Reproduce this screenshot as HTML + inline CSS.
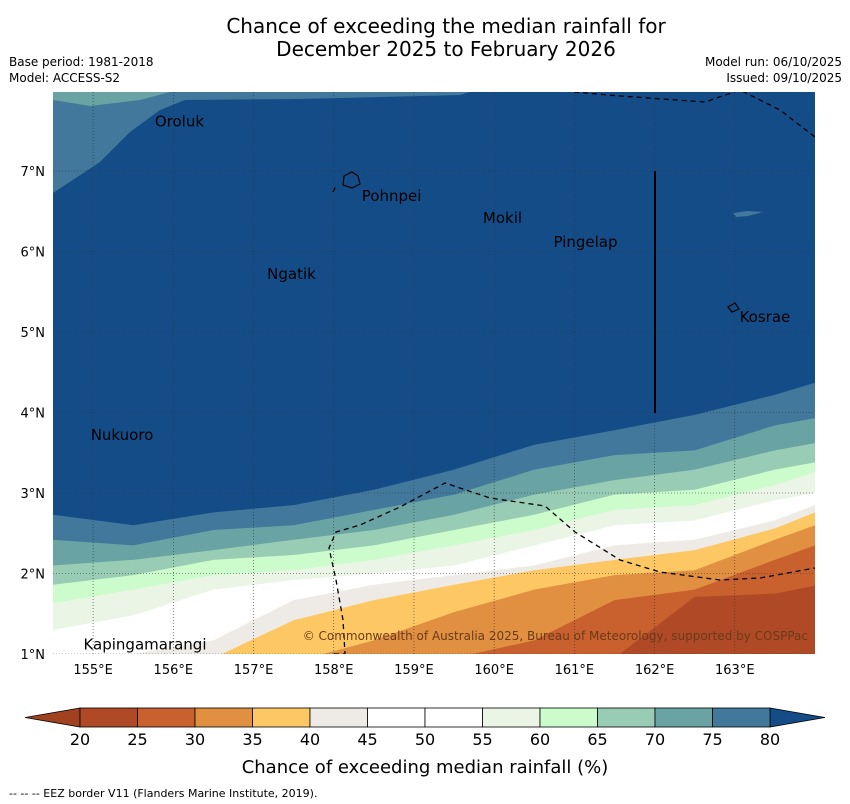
<!DOCTYPE html>
<html><head><meta charset="utf-8">
<style>
body{margin:0;background:#fff;font-family:"Liberation Sans","DejaVu Sans",sans-serif;}
svg{display:block}
</style></head>
<body>
<svg id="chart" width="850" height="804" viewBox="0 0 850 804" xmlns="http://www.w3.org/2000/svg" font-family="DejaVu Sans, Liberation Sans, sans-serif">
<text x="446" y="33" font-size="20" text-anchor="middle">Chance of exceeding the median rainfall for</text>
<text x="446" y="56" font-size="20" text-anchor="middle">December 2025 to February 2026</text>
<text x="9" y="66" font-size="12">Base period: 1981-2018</text>
<text x="9" y="82" font-size="12">Model: ACCESS-S2</text>
<text x="842" y="66" font-size="12" text-anchor="end">Model run: 06/10/2025</text>
<text x="842" y="82" font-size="12" text-anchor="end">Issued: 09/10/2025</text>
<g id="map"></g>
<g id="cbar"></g>
<text x="425" y="773" font-size="18" text-anchor="middle">Chance of exceeding median rainfall (%)</text>
<text x="9" y="797" font-size="11">--  --  -- EEZ border V11 (Flanders Marine Institute, 2019).</text>
</svg>
<script>
// ---- data ----
const lons = [154.5,155.5,156.5,157.5,158.5,159.5,160.5,161.5,162.5,163.5,164];
const thresholds = [80,75,70,65,60,55,45,40,35,30,25];
const line80 = [2.73,2.6,2.76,2.85,3.04,3.29,3.6,3.78,3.97,4.22,4.37];
const line75 = [2.42,2.35,2.54,2.6,2.79,2.98,3.29,3.47,3.53,3.84,3.93];
const line70 = [2.1,2.17,2.29,2.42,2.54,2.73,2.98,3.16,3.29,3.53,3.62];
const line65 = [1.86,1.98,2.17,2.23,2.35,2.54,2.73,2.98,3.04,3.29,3.38];
const line60 = [1.63,1.8,1.98,2.04,2.17,2.35,2.54,2.79,2.85,3.1,3.26];
const line55 = [1.3,1.48,1.8,1.92,2.0,2.1,2.35,2.6,2.66,2.91,3.0];
const line45 = [1.0,1.0,1.17,1.67,1.86,1.98,2.1,2.35,2.42,2.66,2.85];
const line40 = [0.9,0.9,0.95,1.42,1.67,1.86,2.04,2.17,2.29,2.56,2.76];
const line35 = [0.9,0.9,0.9,0.9,1.17,1.52,1.8,1.98,2.04,2.42,2.6];
const line30 = [0.9,0.9,0.9,0.9,0.9,0.95,1.17,1.67,1.8,2.17,2.35];
const line25 = [0.9,0.9,0.9,0.9,0.9,0.9,0.9,0.95,1.71,1.75,1.85];
const bandColors = ['#41789b','#6aa3a3','#99ccb4','#ccfccc','#eaf5e6','#ffffff','#eeebe6','#fdc863','#e09040','#c9612f','#b04a26'];
const cbarLevels = [20,25,30,35,40,45,50,55,60,65,70,75,80];
const cbarColors = ['#b04a26','#c9612f','#e09040','#fdc863','#eeebe6','#ffffff','#ffffff','#eaf5e6','#ccfccc','#99ccb4','#6aa3a3','#41789b'];
const lonTicks = [155,156,157,158,159,160,161,162,163];
const latTicks = [1,2,3,4,5,6,7];
const islandNames = ['Oroluk','Pohnpei','Mokil','Pingelap','Ngatik','Kosrae','Nukuoro','Kapingamarangi'];
const islandLon = [155.77,158.35,159.86,160.74,157.17,163.06,154.97,154.88];
const islandLat = [7.63,6.7,6.43,6.13,5.73,5.2,3.73,1.13];

// ---- axes ----
const X0=53,X1=815,Y0=92,Y1=654;
const xs = lon => X0 + (lon-154.5)/(164-154.5)*(X1-X0);
const ys = lat => 654 - (lat-1)*80.5;
const NS='http://www.w3.org/2000/svg';
const map=document.getElementById('map');
function mk(tag,attrs,parent){const e=document.createElementNS(NS,tag);for(const k in attrs)e.setAttribute(k,attrs[k]);(parent||map).appendChild(e);return e;}
const defs=mk('defs',{});
const cp=mk('clipPath',{id:'clip'},defs);
mk('rect',{x:X0,y:Y0,width:X1-X0,height:Y1-Y0},cp);
const g=mk('g',{'clip-path':'url(#clip)'});
const bg=mk('rect',{x:X0,y:Y0,width:X1-X0,height:Y1-Y0,fill:'#144c88'},g);


const tl=mk('path',{d:`M${X0},${Y0} L${X0},193 L100,162 L130,132 L160,110 L185,100 L300,99 L460,95 L470,${Y0} Z`,fill:'#41789b'},g);


mk('path',{d:`M${X0},${Y0} L${X0},100 L90,106 L140,100 L170,${Y0} Z`,fill:'#6aa3a3'},g);
const lines=[line80,line75,line70,line65,line60,line55,line45,line40,line35,line30,line25];
lines.forEach((ln,i)=>{
  let d='M'+xs(lons[0])+','+ys(ln[0]);
  for(let j=1;j<lons.length;j++) d+=' L'+xs(lons[j])+','+ys(ln[j]);
  d+=` L${X1},${Y1+5} L${X0},${Y1+5} Z`;
  const p=mk('path',{d:d,fill:bandColors[i]},g);
  
  
});
mk('path',{d:'M733,213 L748,211 L763,212 L748,216 L736,217 Z',fill:'#41789b'},g);
lonTicks.forEach(t=>{const l=mk('line',{x1:xs(t),x2:xs(t),y1:Y0,y2:Y1,stroke:'#333','stroke-width':0.6,'stroke-dasharray':'1,2'},g);
  });
latTicks.forEach(t=>{const l=mk('line',{x1:X0,x2:X1,y1:ys(t),y2:ys(t),stroke:'#333','stroke-width':0.6,'stroke-dasharray':'1,2'},g);
  });
const eez=[
 'M334,654 L345,654 L343,620 L336,580 L329,548 L336,532 L360,525 L400,507 L445,483 L490,498 L545,506 L575,532 L620,560 L660,572 L720,580 L760,578 L815,568',
 'M574,92 L620,96 L705,102 L740,90 L780,110 L815,137',
 'M333,192 L336,186'];
eez.forEach(d=>{const p=mk('path',{d:d,fill:'none',stroke:'#000','stroke-width':1.3,'stroke-dasharray':'5,4'},g);
 });
mk('line',{x1:655,x2:655,y1:171,y2:413,stroke:'#000','stroke-width':2},g);
mk('path',{d:'M344,176 L352,172 L358,176 L360,184 L352,188 L343,185 Z',fill:'none',stroke:'#000','stroke-width':1.2},g);
mk('path',{d:'M728,307 L735,303 L739,309 L732,312 Z',fill:'none',stroke:'#000','stroke-width':1.2},g);
islandNames.forEach((n,i)=>{const t=mk('text',{x:xs(islandLon[i]),y:ys(islandLat[i])+6,'font-size':15,fill:'#000'},g);
 t.textContent=n;});
const cr=mk('text',{x:808,y:640,'font-size':12,'text-anchor':'end',fill:'#6b3a1a'},g);
cr.textContent='© Commonwealth of Australia 2025, Bureau of Meteorology, supported by COSPPac';

lonTicks.forEach(t=>{const e=mk('text',{x:xs(t),y:674,'font-size':13,'text-anchor':'middle'});e.textContent=t+'°E';
 });
latTicks.forEach(t=>{const e=mk('text',{x:45,y:ys(t)+5,'font-size':13,'text-anchor':'end'});e.textContent=t+'°N';
 });
const cb=document.getElementById('cbar');
const CX0=80,CX1=770,CY0=708,CY1=727;
const bw=(CX1-CX0)/cbarColors.length;
mk('path',{d:`M${CX0},${CY0} L25,${(CY0+CY1)/2} L${CX0},${CY1} Z`,fill:'#a04220',stroke:'#000','stroke-width':0.8},cb);
mk('path',{d:`M${CX1},${CY0} L825,${(CY0+CY1)/2} L${CX1},${CY1} Z`,fill:'#144c88',stroke:'#000','stroke-width':0.8},cb);
cbarColors.forEach((c,i)=>{const r=mk('rect',{x:CX0+i*bw,y:CY0,width:bw,height:CY1-CY0,fill:c,stroke:'#000','stroke-width':0.8},cb);
 });
cbarLevels.forEach((v,i)=>{const t=mk('text',{x:CX0+i*bw,y:745,'font-size':16,'text-anchor':'middle'},cb);t.textContent=v;
 });
</script>
</body></html>
